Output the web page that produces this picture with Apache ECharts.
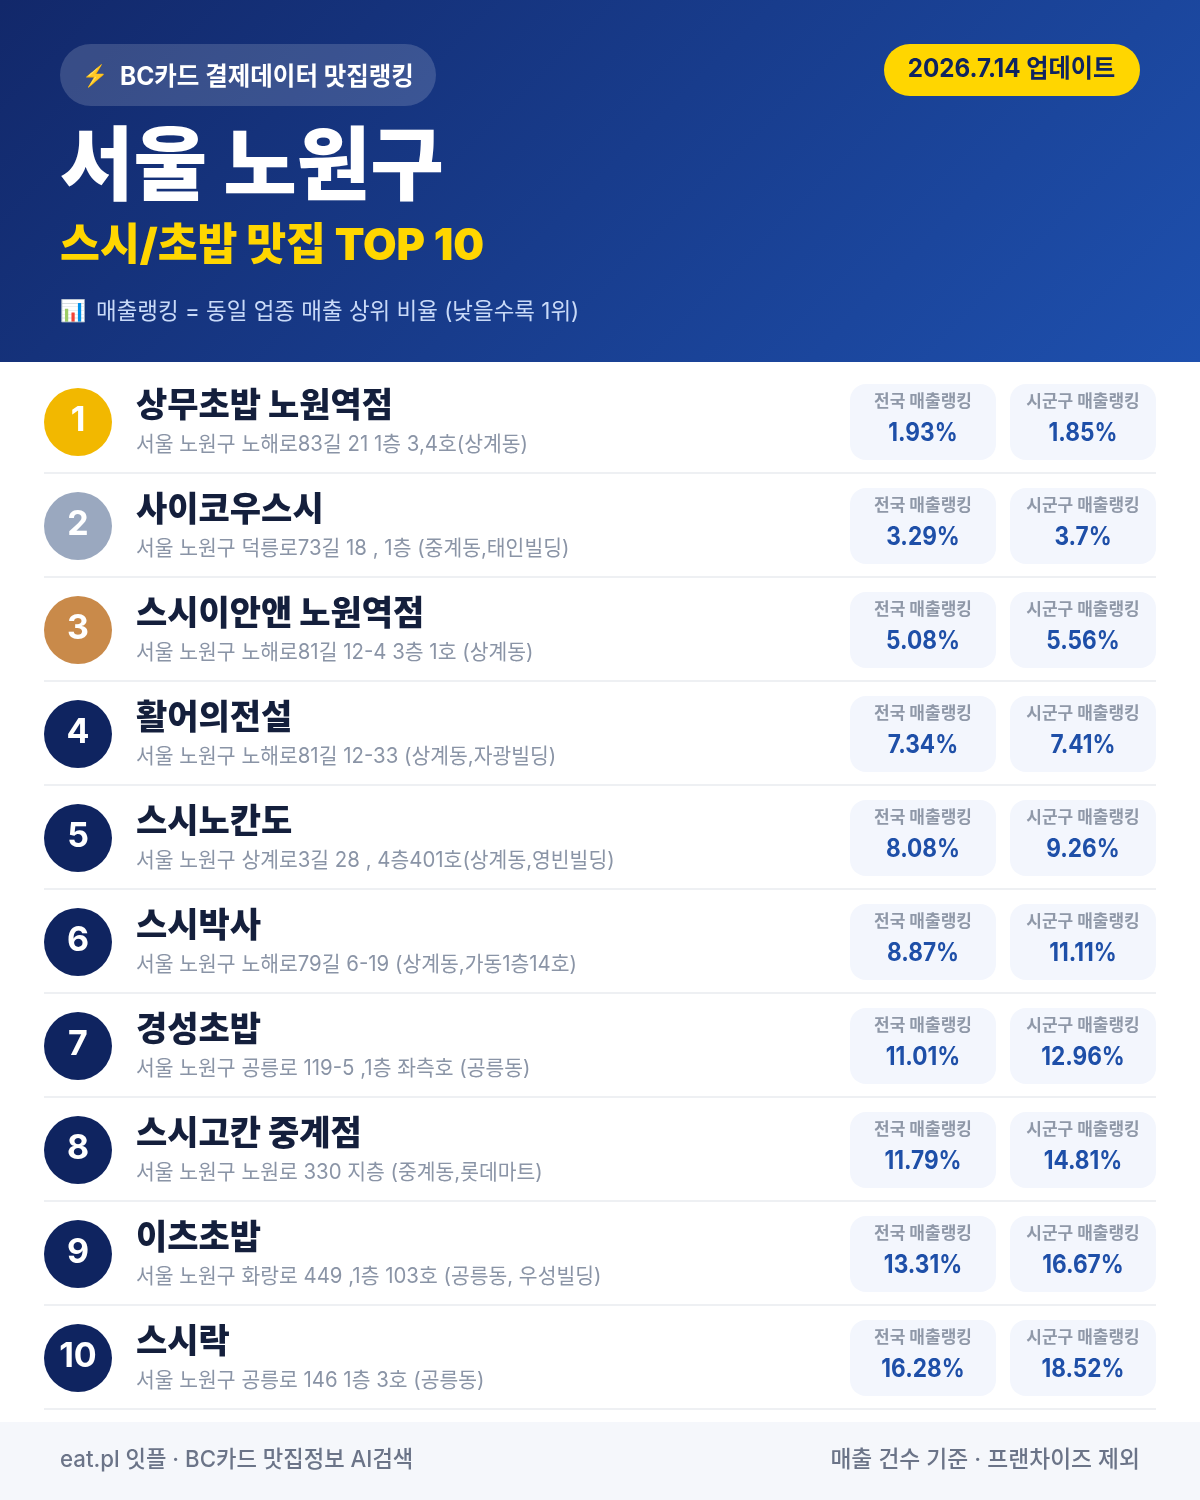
<!DOCTYPE html>
<html lang="ko"><head><meta charset="utf-8">
<style>html,body{margin:0;padding:0;background:#fff}#c{width:1200px;height:1500px}</style>
<script src="https://cdn.jsdelivr.net/npm/echarts@6/dist/echarts.min.js"></script>
</head><body><div id="c"></div>
<script>
const ranks = ['1','2','3','4','5','6','7','8','9','10'];
const names = ['상무초밥 노원역점','사이코우스시','스시이안앤 노원역점','활어의전설','스시노칸도','스시박사','경성초밥','스시고칸 중계점','이츠초밥','스시락'];
const addresses = [
 '서울 노원구 노해로83길 21 1층 3,4호(상계동)',
 '서울 노원구 덕릉로73길 18 , 1층 (중계동,태인빌딩)',
 '서울 노원구 노해로81길 12-4 3층 1호 (상계동)',
 '서울 노원구 노해로81길 12-33 (상계동,자광빌딩)',
 '서울 노원구 상계로3길 28 , 4층401호(상계동,영빈빌딩)',
 '서울 노원구 노해로79길 6-19 (상계동,가동1층14호)',
 '서울 노원구 공릉로 119-5 ,1층 좌측호 (공릉동)',
 '서울 노원구 노원로 330 지층 (중계동,롯데마트)',
 '서울 노원구 화랑로 449 ,1층 103호 (공릉동, 우성빌딩)',
 '서울 노원구 공릉로 146 1층 3호 (공릉동)'];
const nationalRank = [1.93,3.29,5.08,7.34,8.08,8.87,11.01,11.79,13.31,16.28];
const districtRank = [1.85,3.7,5.56,7.41,9.26,11.11,12.96,14.81,16.67,18.52];
const nationalLabel = '전국 매출랭킹';
const districtLabel = '시군구 매출랭킹';
const badgeText = 'BC카드 결제데이터 맛집랭킹';
const dateText = '2026.7.14 업데이트';
const titleText = '서울 노원구';
const subtitleText = '스시/초밥 맛집 TOP 10';
const noteText = '매출랭킹 = 동일 업종 매출 상위 비율 (낮을수록 1위)';
const footerLeft = 'eat.pl 잇플 · BC카드 맛집정보 AI검색';
const footerRight = '매출 건수 기준 · 프랜차이즈 제외';

const FONT = 'Inter,"Noto Sans CJK KR",sans-serif';
const medal = ['#F2B800','#9AA8BF','#C98A4A'];
const navy = '#0F2460';
const T = (x,y,text,size,weight,fill,align,sx) => ({type:'text',x,y:y+size*0.075,scaleX:sx||1,silent:true,style:{text,fontFamily:FONT,fontSize:size,fontWeight:weight,fill,align:align||'left',verticalAlign:'middle'}});

const chart = echarts.init(document.getElementById('c'),null,{renderer:'canvas',width:1200,height:1500});

function rowItem(params,api){
  const i = api.value(1);
  const c = api.coord([0,i]);
  const bandH = api.size([0,1])[1];
  const y = c[1];
  return {type:'group',children:[
    {type:'rect',shape:{x:44,y:y+bandH/2-2,width:1112,height:2},style:{fill:'#EEF0F3'},silent:true},
    T(136,y-18,names[i],34,900,'#141F3C'),
    T(136,y+21,addresses[i],21,400,'#8A94A6','left',0.972)
  ]};
}
function cardItem(label){
  return function(params,api){
    const xc = api.coord([api.value(0),api.value(1)]);
    const val = api.value(2);
    return {type:'group',children:[
      {type:'rect',shape:{x:xc[0]-73,y:xc[1]-38,width:146,height:76,r:16},style:{fill:'#F3F6FD'},silent:true},
      T(xc[0],xc[1]-21,label,17,700,'#8F98A8','center'),
      T(xc[0],xc[1]+9.5,val+'%',25,700,'#1E4FA8','center',0.905)
    ]};
  };
}
const option = {
  animation:false,
  backgroundColor:'#fff',
  grid:{left:0,right:0,top:370,bottom:90,containLabel:false},
  xAxis:{type:'value',min:0,max:1200,show:false},
  yAxis:{type:'category',data:ranks,inverse:true,show:false},
  graphic:{elements:[
    {type:'rect',z:-1,shape:{x:0,y:0,width:1200,height:362},silent:true,style:{fill:{type:'linear',global:true,x:209.5,y:-209.5,x2:990.5,y2:571.5,colorStops:[{offset:0,color:'#12286A'},{offset:1,color:'#1E50AE'}]}}},
    {type:'rect',shape:{x:60,y:44,width:376,height:62,r:31},silent:true,style:{fill:'rgba(255,255,255,0.16)'}},
    T(82,75,'⚡',21,400,'#FFD600'),
    T(120,76,badgeText,25,700,'#FFFFFF','left',0.98),
    {type:'rect',shape:{x:884,y:44,width:256,height:52,r:26},silent:true,style:{fill:'#FFD600'}},
    T(1011.5,68,dateText,25,700,navy,'center',0.967),
    T(60,163,titleText,80,900,'#FFFFFF'),
    T(60,243,subtitleText,44,900,'#FFD600','left',0.986),
    T(60,310.5,'📊',21,400,'#FFFFFF'),
    T(96,310.5,noteText,23,400,'#C9DAF8','left',0.976),
    {type:'rect',z:-1,shape:{x:0,y:1422,width:1200,height:78},silent:true,style:{fill:'#F5F7FB'}},
    T(60,1458.5,footerLeft,23,500,'#6B7488','left',0.967),
    T(1140,1458.5,footerRight,23,500,'#6B7488','right',0.99)
  ]},
  series:[
    {type:'custom',renderItem:rowItem,data:ranks.map((r,i)=>[0,i]),encode:{x:0,y:1},silent:true},
    {type:'scatter',symbol:'circle',symbolSize:68,silent:true,
      data:ranks.map((r,i)=>({value:[78,i],itemStyle:{color:medal[i]||navy,opacity:1}})),
      label:{show:true,position:'inside',offset:[0,-1.5],formatter:p=>ranks[p.dataIndex],color:'#fff',fontFamily:FONT,fontWeight:700,fontSize:34}},
    {type:'custom',name:nationalLabel,renderItem:cardItem(nationalLabel),data:nationalRank.map((v,i)=>[923,i,v]),encode:{x:0,y:1},silent:true},
    {type:'custom',name:districtLabel,renderItem:cardItem(districtLabel),data:districtRank.map((v,i)=>[1083,i,v]),encode:{x:0,y:1},silent:true}
  ]
};
chart.setOption(option);
</script></body></html>
